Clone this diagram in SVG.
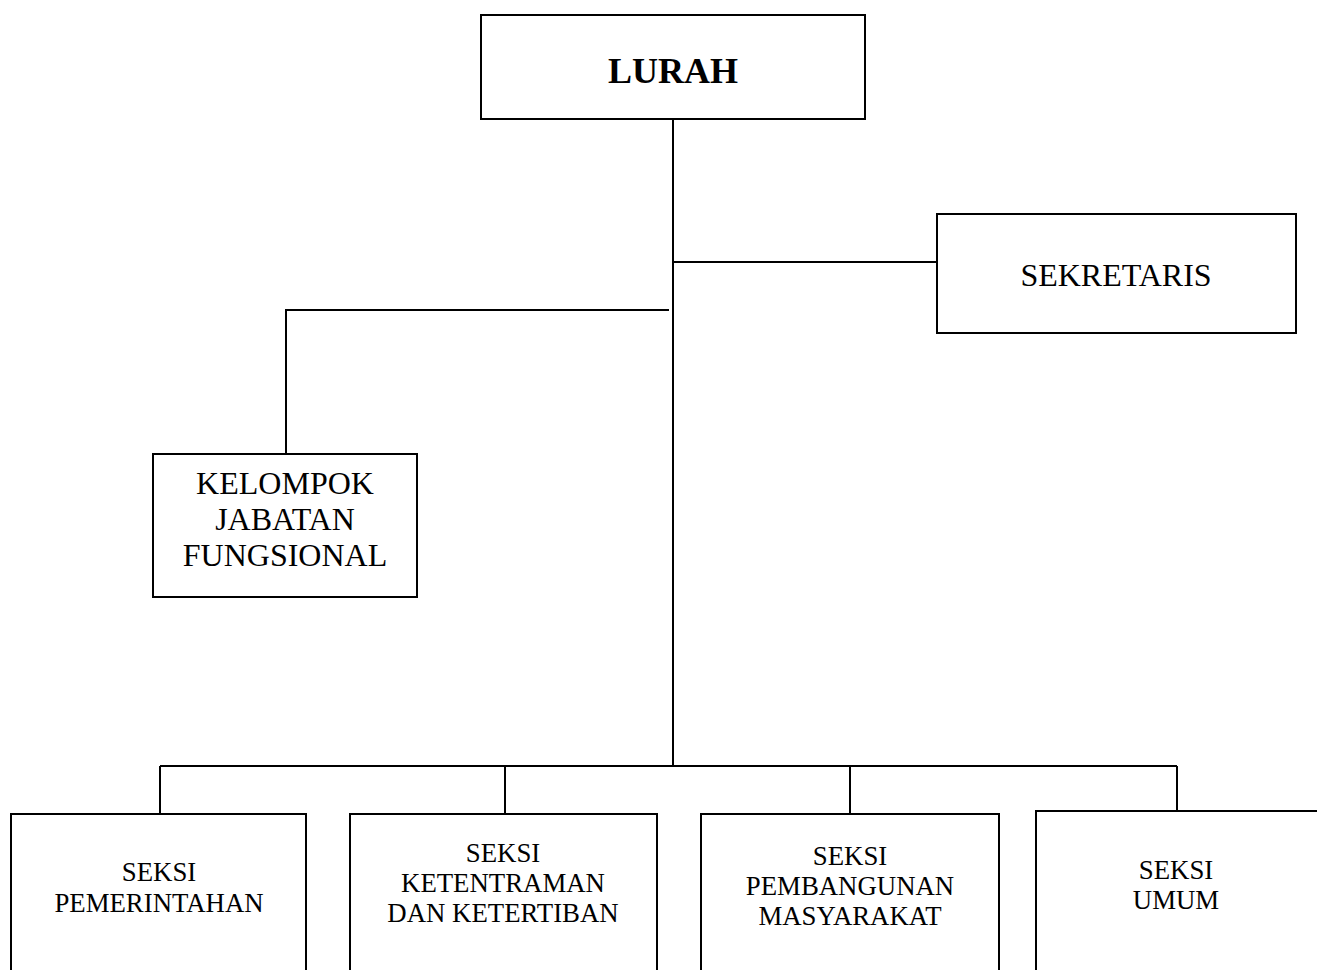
<svg xmlns="http://www.w3.org/2000/svg" width="1317" height="970" viewBox="0 0 1317 970">
<style>
.box{fill:#fff;stroke:#000;stroke-width:2}
.ln{fill:none;stroke:#000;stroke-width:2}
text{font-family:"Liberation Serif","Times New Roman",serif;fill:#000;text-anchor:middle}
.t1{font-size:36px;font-weight:bold}
.t2{font-size:32px}
.t3{font-size:26.8px}
</style>
<rect width="1317" height="970" fill="#fff"/>
<g id="connectors">
<path class="ln" d="M673 119V766"/>
<path class="ln" d="M673 262H937"/>
<path class="ln" d="M669 310H286V454"/>
<path class="ln" d="M160 766H1177"/>
<path class="ln" d="M160 766V814M505 766V814M850 766V814M1177 766V811"/>
</g>
<g id="lurah"><rect class="box" x="481" y="15" width="384" height="104"/><text class="t1" x="673" y="83">LURAH</text></g>
<g id="sekretaris"><rect class="box" x="937" y="214" width="359" height="119"/><text class="t2" x="1116" y="286">SEKRETARIS</text></g>
<g id="kelompok"><rect class="box" x="153" y="454" width="264" height="143"/><text class="t2" x="285" y="494">KELOMPOK</text><text class="t2" x="285" y="530">JABATAN</text><text class="t2" x="285" y="566">FUNGSIONAL</text></g>
<g id="seksi-pemerintahan"><rect class="box" x="11" y="814" width="295" height="200"/><text class="t3" x="159" y="881">SEKSI</text><text class="t3" x="159" y="912">PEMERINTAHAN</text></g>
<g id="seksi-ketentraman"><rect class="box" x="350" y="814" width="307" height="200"/><text class="t3" x="503" y="862">SEKSI</text><text class="t3" x="503" y="892">KETENTRAMAN</text><text class="t3" x="503" y="922">DAN KETERTIBAN</text></g>
<g id="seksi-pembangunan"><rect class="box" x="701" y="814" width="298" height="200"/><text class="t3" x="850" y="865">SEKSI</text><text class="t3" x="850" y="895">PEMBANGUNAN</text><text class="t3" x="850" y="925">MASYARAKAT</text></g>
<g id="seksi-umum"><rect class="box" x="1036" y="811" width="320" height="200"/><text class="t3" x="1176" y="879">SEKSI</text><text class="t3" x="1176" y="909">UMUM</text></g>
</svg>
